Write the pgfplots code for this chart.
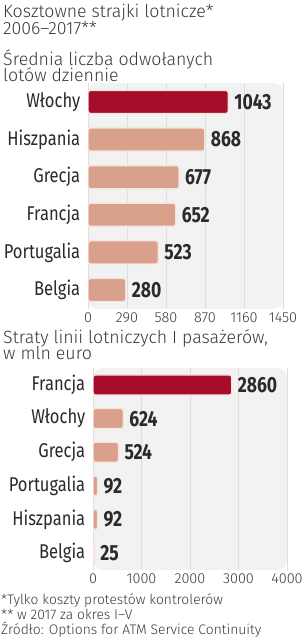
\documentclass[border=0pt]{standalone}
\usepackage{fontspec}
\setmainfont{Fira Sans}[FakeStretch=0.83]
\newfontfamily\lightf{Fira Sans Light}
\newfontfamily\boldf{Fira Sans Bold}[FakeStretch=0.8]
\usepackage{pgfplots}
\pgfplotsset{compat=1.18}
\definecolor{darkred}{HTML}{A50D2B}
\definecolor{salmon}{HTML}{D9A08C}
\definecolor{barborder}{HTML}{F6E4DC}
\definecolor{panel}{HTML}{F2F2F2}
\definecolor{gridc}{HTML}{DEDEDE}
\definecolor{txt}{HTML}{2A2A2A}
\definecolor{ttl}{HTML}{3A3A3A}
\pgfplotsset{
  mybars/.style={
    scale only axis, xbar, bar shift=0pt,
    y dir=reverse, ymin=-0.5, ymax=5.5, ytick={0,...,5},
    axis line style={draw=none}, tick style={draw=none},
    xmajorgrids, grid style={gridc, line width=0.8bp},
    axis background/.style={fill=panel, rounded corners=9bp},
    yticklabel style={font=\fontsize{20}{20}\selectfont, text=txt, xshift=0bp},
    xticklabel style={font=\lightf\fontsize{14.5}{15}\selectfont, text=ttl},
    /pgf/number format/assume math mode=true,
    /pgf/number format/1000 sep={},
    nodes near coords,
    nodes near coords style={font=\boldf\fontsize{22}{22}\selectfont, text=txt, anchor=west, inner sep=0pt, xshift=5.5bp},
    every axis plot/.append style={draw=barborder, line width=1.2bp, rounded corners=2.5bp},
  }
}
\begin{document}
\begin{tikzpicture}[x=1bp,y=1bp]
\useasboundingbox (0,0) rectangle (305,640);
\fill[white] (0,0) rectangle (305,640);
% titles
\begin{scope}[every node/.style={anchor=base west, inner sep=0pt, text=ttl, font=\lightf\fontsize{17.8}{18}\selectfont}]
\node at (3,622.7) {Kosztowne strajki lotnicze*};
\node at (3,605) {2006–2017**};
\node at (3,574.3) {Średnia liczba odwołanych};
\node at (3,558.3) {lotów dziennie};
\node at (3,296.7) {Straty linii lotniczych I pasażerów,};
\node at (3,280) {w mln euro};
\end{scope}
\begin{scope}[every node/.style={anchor=base west, inner sep=0pt, text=ttl, font=\lightf\fontsize{13.9}{14}\selectfont}]
\node at (1,35.5) {*Tylko koszty protestów kontrolerów};
\node at (1,20.5) {** w 2017 za okres I–V};
\node at (1,5.5) {Źródło: Options for ATM Service Continuity};
\end{scope}
% chart 1
\begin{axis}[mybars, at={(88bp,556.8bp)}, anchor=north west,
  width=195bp, height=225.6bp, bar width=23bp,
  xmin=0, xmax=1450, xtick={0,290,580,870,1160,1450},
  yticklabels={Włochy,Hiszpania,Grecja,Francja,Portugalia,Belgia}]
\addplot[fill=darkred] coordinates {(1043,0)};
\addplot[fill=salmon] coordinates {(868,1) (677,2) (652,3) (523,4) (280,5)};
\end{axis}
% chart 2
\begin{axis}[mybars, at={(93bp,271.8bp)}, anchor=north west,
  width=194bp, height=201.6bp, bar width=20bp,
  xmin=0, xmax=4000, xtick={0,1000,2000,3000,4000},
  yticklabels={Francja,Włochy,Grecja,Portugalia,Hiszpania,Belgia}]
\addplot[fill=darkred] coordinates {(2860,0)};
\addplot[fill=salmon] coordinates {(624,1) (524,2) (92,3) (92,4) (25,5)};
\end{axis}
\end{tikzpicture}
\end{document}
